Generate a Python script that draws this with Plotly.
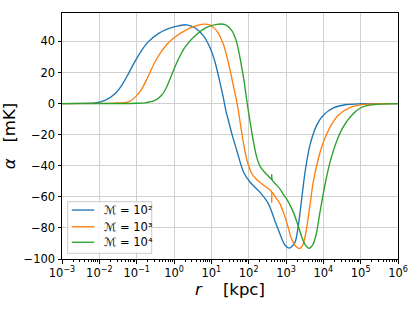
import plotly.graph_objects as go

# log10(r / kpc) and alpha [mK]
logr_m2 = [-3.0, -2.5, -2.116, -1.848, -1.58, -1.40, -1.22, -1.045, -0.866, -0.69, -0.42,
           -0.152, 0.116, 0.34, 0.56, 0.785, 0.96, 1.10, 1.23, 1.32, 1.39, 1.47, 1.55, 1.68, 1.86,
           2.04, 2.30, 2.53, 2.71, 2.84, 2.97, 3.09, 3.24, 3.33, 3.42, 3.51, 3.64, 3.82, 4.0, 4.27,
           4.63, 5.0, 6.0]
alpha_m2 = [0.0, 0.1, 0.4, 2.1, 6.4, 11.8, 19.3, 27.2, 34.3, 39.7, 45.0,
            48.2, 50.0, 50.7, 48.8, 43.7, 36.2, 26.6, 13.7, 4.0, -4.5, -12.0, -19.5, -30.0, -44.0,
            -50.6, -57.0, -64.5, -76.0, -84.0, -91.0, -93.0, -89.3, -78.5, -61.3, -44.1, -26.9, -14.0,
            -7.5, -2.8, -0.6, -0.1, 0.0]

logr_m3 = [-3.0, -2.0, -1.58, -1.22, -1.045, -0.866, -0.73, -0.64, -0.51, -0.33, -0.152, 0.027,
           0.295, 0.56, 0.8, 0.96, 1.14, 1.32, 1.455, 1.59, 1.68, 1.72, 1.81, 1.88, 1.95, 2.08, 2.2, 2.30,
           2.45, 2.57, 2.605, 2.617, 2.617, 2.63, 2.75, 2.84, 2.93, 3.02, 3.15, 3.29, 3.375, 3.46, 3.55,
           3.64, 3.73, 3.865, 4.0, 4.18, 4.40, 4.71, 5.07, 5.5, 6.0]
alpha_m3 = [0.0, 0.1, 0.3, 1.1, 4.0, 9.3, 15.6, 20.2, 26.8, 33.7, 39.2, 42.9,
            47.0, 49.8, 51.1, 50.6, 47.0, 38.4, 26.6, 11.6, 1.5, -4.0, -18.0, -28.0, -36.0, -45.0, -48.5, -50.6,
            -53.5, -55.5, -56.4, -56.8, -63.5, -57.2, -61.3, -64.5, -70.0, -76.4, -87.1, -92.5, -93.2, -90.3, -80.6,
            -65.6, -50.6, -35.5, -24.8, -15.1, -7.5, -2.6, -0.5, -0.1, 0.0]

logr_m4 = [-3.0, -1.5, -1.0, -0.777, -0.51, -0.33, -0.196, -0.062, 0.116, 0.3, 0.58, 0.875,
           1.14, 1.37, 1.55, 1.68, 1.79, 1.88, 1.95, 2.0, 2.06, 2.12, 2.2, 2.28, 2.35, 2.5,
           2.605, 2.617, 2.617, 2.63, 2.75, 2.84, 2.93, 3.02, 3.11, 3.2, 3.29, 3.41, 3.46, 3.55,
           3.62, 3.73, 3.82, 3.91, 4.04, 4.18, 4.36, 4.53, 4.76, 4.98, 5.2, 5.5, 6.0]
alpha_m4 = [0.0, 0.05, 0.2, 0.5, 2.1, 5.4, 10.7, 18.5, 28.5, 36.5, 44.0, 49.0,
            51.0, 50.8, 47.0, 39.4, 26.6, 14.0, 2.0, -6.0, -15.0, -23.5, -33.0, -39.0, -42.0, -46.0,
            -48.6, -48.9, -45.8, -49.2, -52.5, -55.0, -58.5, -61.5, -65.5, -70.0, -76.0, -85.0, -88.2, -92.0,
            -93.2, -90.3, -82.8, -69.9, -52.7, -37.7, -24.0, -15.1, -7.5, -3.0, -1.2, -0.3, 0.0]

series_names = ["<i>ℳ</i> = 10²", "<i>ℳ</i> = 10³", "<i>ℳ</i> = 10⁴"]
series_colors = ["#1f77b4", "#ff7f0e", "#2ca02c"]

x_tick_exps = [-3, -2, -1, 0, 1, 2, 3, 4, 5, 6]
y_ticks = [-100, -80, -60, -40, -20, 0, 20, 40]

FONT = "DejaVu Sans"

fig = go.Figure()
for lr, al, name, col in zip([logr_m2, logr_m3, logr_m4], [alpha_m2, alpha_m3, alpha_m4],
                             series_names, series_colors):
    fig.add_trace(go.Scatter(
        x=[10 ** v for v in lr], y=al, mode="lines", name=name, showlegend=False,
        line=dict(color=col, width=1.35, shape="spline", smoothing=0.8),
    ))

# legend drawn in paper coordinates (matplotlib-style compact legend)
shapes = [dict(type="rect", xref="paper", yref="paper", x0=0.017, x1=0.267, y0=0.023, y1=0.233,
               fillcolor="rgba(255,255,255,0.8)", line=dict(color="#cccccc", width=1), layer="above")]
annotations = []
row_y = [0.199, 0.131, 0.068]
for ry, name, col in zip(row_y, series_names, series_colors):
    shapes.append(dict(type="line", xref="paper", yref="paper", x0=0.029, x1=0.096, y0=ry, y1=ry,
                       line=dict(color=col, width=1.35), layer="above"))
    annotations.append(dict(xref="paper", yref="paper", x=0.119, y=ry, xanchor="left", yanchor="middle",
                            text=name, showarrow=False,
                            font=dict(family=FONT, size=11.5, color="black")))

minor_vals = [m * 10 ** e for e in range(-3, 6) for m in range(2, 10)]

fig.update_layout(
    width=415, height=312,
    margin=dict(l=62, r=17, t=13, b=53),
    paper_bgcolor="white", plot_bgcolor="white",
    font=dict(family=FONT, color="black", size=11.5),
    showlegend=False,
    shapes=shapes,
    annotations=annotations,
    xaxis=dict(
        type="log", range=[-3, 6],
        tickvals=[10 ** e for e in x_tick_exps],
        ticktext=["10<sup>%s</sup>" % (str(e).replace("-", "\u2212")) for e in x_tick_exps],
        ticks="outside", ticklen=3.5, tickwidth=1, tickcolor="black",
        showline=True, linecolor="black", linewidth=1, mirror=True,
        showgrid=True, gridcolor="#d0d0d0", gridwidth=1,
        zeroline=False,
        tickfont=dict(family=FONT, size=11.5, color="black"),
        minor=dict(tickvals=minor_vals, ticks="outside", ticklen=2, tickwidth=0.8,
                   tickcolor="black", showgrid=False),
        title=dict(text="<i>r</i>\u00a0\u00a0\u00a0\u00a0[kpc]", font=dict(family=FONT, size=16.5),
                   standoff=4),
        automargin=False,
    ),
    yaxis=dict(
        range=[-100, 58.3],
        tickvals=y_ticks,
        ticks="outside", ticklen=3.5, tickwidth=1, tickcolor="black",
        showline=True, linecolor="black", linewidth=1, mirror=True,
        showgrid=True, gridcolor="#d0d0d0", gridwidth=1,
        zeroline=False,
        tickfont=dict(family=FONT, size=11.5, color="black"),
        title=dict(text="<i>α</i>\u00a0\u00a0\u00a0[mK]", font=dict(family=FONT, size=16.5),
                   standoff=6),
        automargin=False,
    ),
)

fig.write_html("out.html", config={"displayModeBar": False},
               post_script="document.body.style.margin='0';document.body.style.padding='0';")
